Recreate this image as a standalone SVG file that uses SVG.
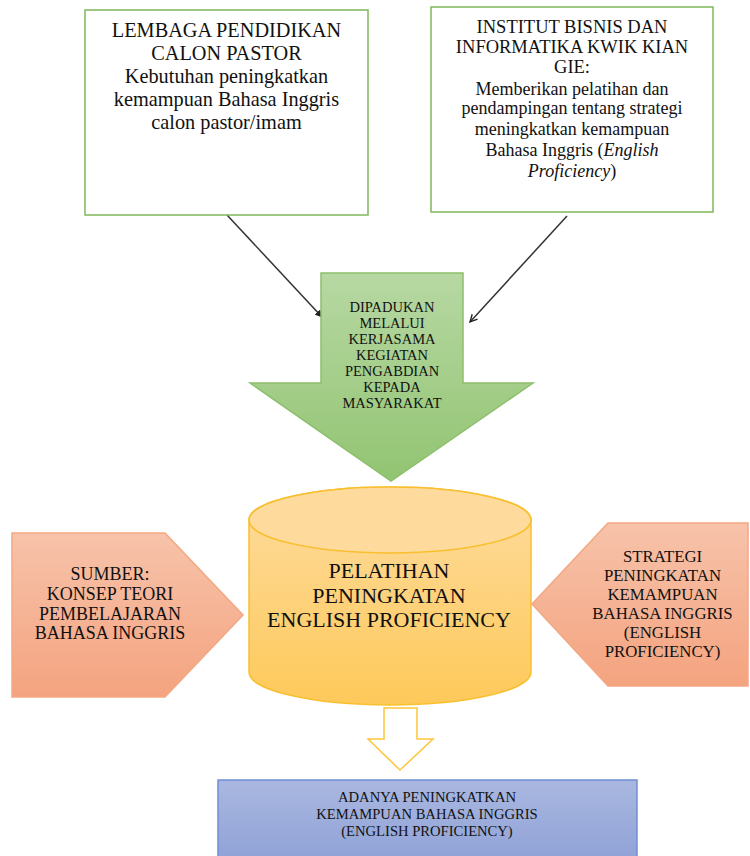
<svg xmlns="http://www.w3.org/2000/svg" width="750" height="856" viewBox="0 0 750 856">
<defs>
<linearGradient id="gGreen" x1="0" y1="0" x2="0" y2="1"><stop offset="0" stop-color="#b7d8a3"/><stop offset="1" stop-color="#92c472"/></linearGradient>
<linearGradient id="gYellow" x1="0" y1="0" x2="0" y2="1"><stop offset="0" stop-color="#fedc9f"/><stop offset="1" stop-color="#fec95a"/></linearGradient>
<linearGradient id="gOrange" x1="0" y1="0" x2="0" y2="1"><stop offset="0" stop-color="#f7c3aa"/><stop offset="1" stop-color="#f4a37f"/></linearGradient>
<linearGradient id="gBlue" x1="0" y1="0" x2="0" y2="1"><stop offset="0" stop-color="#aab8e0"/><stop offset="1" stop-color="#8c9fd6"/></linearGradient>
<marker id="mFill" viewBox="0 0 10 10" refX="9" refY="5" markerWidth="5" markerHeight="5" orient="auto" markerUnits="strokeWidth"><path d="M0,0 L10,5 L0,10 Z" fill="#222"/></marker>
<marker id="mOpen" viewBox="0 0 10 10" refX="9" refY="5" markerWidth="6" markerHeight="6" orient="auto" markerUnits="strokeWidth"><path d="M1,1 L9,5 L1,9" fill="none" stroke="#222" stroke-width="1.5"/></marker>
</defs>
<style>
text{font-family:"Liberation Serif","Times New Roman",serif;fill:#111;text-anchor:middle}
.box{fill:#fff;stroke:#7fb85a;stroke-width:1.5}
.conn{stroke:#333;stroke-width:1.5;fill:none}
</style>
<rect width="750" height="856" fill="#fff"/>
<g id="connectors">
<line class="conn" x1="227" y1="215" x2="322" y2="317" marker-end="url(#mFill)"/>
<line class="conn" x1="567" y1="216" x2="470" y2="322" marker-end="url(#mOpen)"/>
</g>
<g id="lembaga">
<rect class="box" x="85" y="10" width="283" height="205"/>
<text font-size="20.3"><tspan x="226.5" y="37">LEMBAGA PENDIDIKAN</tspan><tspan x="226.5" y="60">CALON PASTOR</tspan><tspan x="226.5" y="83">Kebutuhan peningkatkan</tspan><tspan x="226.5" y="106">kemampuan Bahasa Inggris</tspan><tspan x="226.5" y="129">calon pastor/imam</tspan></text>
</g>
<g id="institut">
<rect class="box" x="431" y="7" width="282" height="205"/>
<text font-size="18.5"><tspan x="572" y="33">INSTITUT BISNIS DAN</tspan><tspan x="572" y="53">INFORMATIKA KWIK KIAN</tspan><tspan x="572" y="73">GIE:</tspan></text>
<text font-size="18"><tspan x="572" y="95">Memberikan pelatihan dan</tspan><tspan x="572" y="114">pendampingan tentang  strategi</tspan><tspan x="572" y="135">meningkatkan kemampuan</tspan><tspan x="572" y="156">Bahasa Inggris (<tspan font-style="italic">English</tspan></tspan><tspan x="572" y="177"><tspan font-style="italic">Proficiency</tspan>)</tspan></text>
</g>
<g id="dipadukan">
<path d="M321,273 L463,273 L463,383 L533,383 L391,481 L250,383 L321,383 Z" fill="url(#gGreen)" stroke="#8dbf6c" stroke-width="1.5"/>
<text font-size="14.5"><tspan x="392" y="312">DIPADUKAN</tspan><tspan x="392" y="328">MELALUI</tspan><tspan x="392" y="344">KERJASAMA</tspan><tspan x="392" y="360">KEGIATAN</tspan><tspan x="392" y="376">PENGABDIAN</tspan><tspan x="392" y="392">KEPADA</tspan><tspan x="392" y="408">MASYARAKAT</tspan></text>
</g>
<g id="pelatihan">
<path d="M249,520 L249,672 A141,33 0 0 0 531,672 L531,520 A141,33 0 0 0 249,520 Z" fill="url(#gYellow)" stroke="#f8c030" stroke-width="1.5"/>
<ellipse cx="390" cy="520" rx="141" ry="33" fill="#fedb9c" stroke="#f8c030" stroke-width="1.5"/>
<text font-size="22"><tspan x="389" y="578">PELATIHAN</tspan><tspan x="389" y="603">PENINGKATAN</tspan><tspan x="389" y="627">ENGLISH PROFICIENCY</tspan></text>
</g>
<g id="sumber">
<path d="M12,533 L165,533 L243,615 L165,697 L12,697 Z" fill="url(#gOrange)" stroke="#f3a883" stroke-width="1.5"/>
<text font-size="18"><tspan x="110" y="580">SUMBER:</tspan><tspan x="110" y="600">KONSEP TEORI</tspan><tspan x="110" y="620">PEMBELAJARAN</tspan><tspan x="110" y="639">BAHASA INGGRIS</tspan></text>
</g>
<g id="strategi">
<path d="M748,523 L608,523 L532,604 L608,686 L748,686 Z" fill="url(#gOrange)" stroke="#f3a883" stroke-width="1.5"/>
<text font-size="16.8"><tspan x="662.5" y="562">STRATEGI</tspan><tspan x="662.5" y="581">PENINGKATAN</tspan><tspan x="662.5" y="600">KEMAMPUAN</tspan><tspan x="662.5" y="619">BAHASA INGGRIS</tspan><tspan x="662.5" y="638">(ENGLISH</tspan><tspan x="662.5" y="657">PROFICIENCY)</tspan></text>
</g>
<g id="hollow-arrow">
<path d="M384,708 L417,708 L417,739 L433,739 L400,770 L368,739 L384,739 Z" fill="#fff" stroke="#fdc53a" stroke-width="1.5"/>
</g>
<g id="adanya">
<rect x="218" y="780" width="419" height="90" fill="url(#gBlue)" stroke="#6f8fd2" stroke-width="1.5"/>
<text font-size="14.6"><tspan x="427" y="802">ADANYA PENINGKATKAN</tspan><tspan x="427" y="819">KEMAMPUAN BAHASA INGGRIS</tspan><tspan x="427" y="836">(ENGLISH PROFICIENCY)</tspan></text>
</g>
</svg>
